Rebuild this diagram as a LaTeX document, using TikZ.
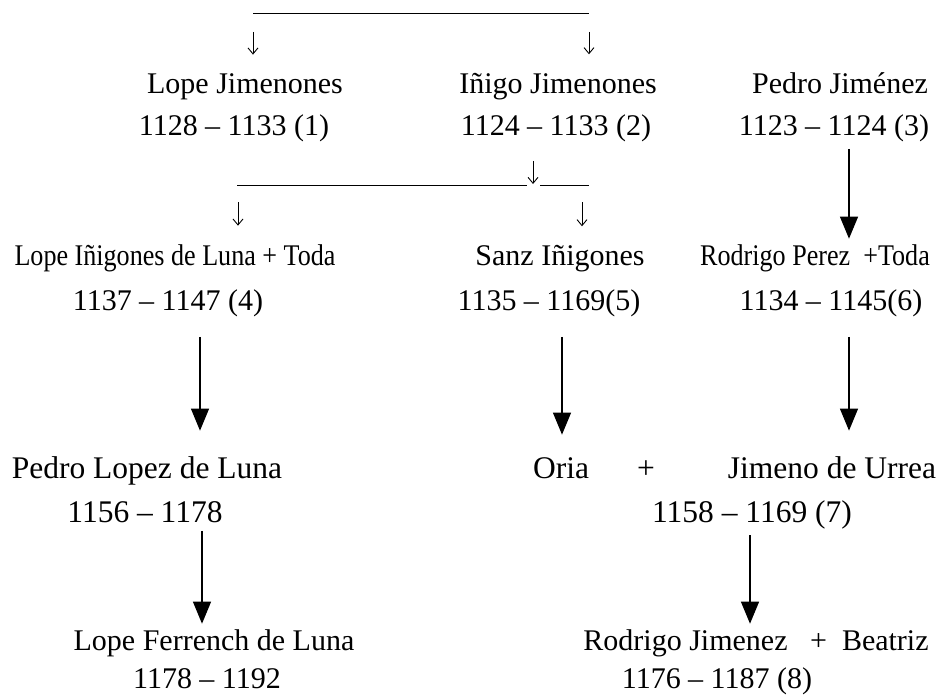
\documentclass[tikz,border=0pt]{standalone}
\usepackage{fontspec}
\setmainfont{Liberation Serif}
\usetikzlibrary{calc}
\usetikzlibrary{arrows.meta}
\newcommand{\narrow}[1]{\scalebox{0.87}[1]{#1}}
\tikzset{
    txt/.style={inner sep=0pt, anchor=base, font=\fontsize{30pt}{36pt}\selectfont},
    bigtxt/.style={txt, font=\fontsize{31.5pt}{38pt}\selectfont},
    smallarr/.style={line width=0.9pt, -{Straight Barb[length=6pt,width=10pt]}},
    bigarr/.style={line width=1.1pt, -{Triangle[length=22pt,width=18pt]}}
}

\begin{document}
\begin{tikzpicture}[x=1pt, y=-1pt, line width=1pt]
    \useasboundingbox (0,0) rectangle (941,695);

    % first row
    \node [txt] (lope_jim) at (245,94) {Lope Jimenones};
    \node [txt] (lope_jim_yr) at (234,136) {1128 -- 1133 (1)};
    \node [txt] (inigo_jim) at (558,94) {Iñigo Jimenones};
    \node [txt] (inigo_jim_yr) at (556,136) {1124 -- 1133 (2)};
    \node [txt] (pedro_jim) at (840,94) {Pedro Jiménez};
    \node [txt] (pedro_jim_yr) at (834,136) {1123 -- 1124 (3)};

    % second row
    \node [txt] (lope_ig) at (175,265) {\narrow{Lope Iñigones de Luna + Toda}};
    \node [txt] (lope_ig_yr) at (168,310) {1137 -- 1147 (4)};
    \node [txt] (sanz_ig) at (560,265) {Sanz Iñigones};
    \node [txt] (sanz_ig_yr) at (549,310) {1135 -- 1169(5)};
    \node [txt] (rodrigo_per) at (815,265) {\narrow{Rodrigo Perez\ \ +Toda}};
    \node [txt] (rodrigo_per_yr) at (831,310) {1134 -- 1145(6)};

    % third row
    \node [bigtxt] (pedro_lop) at (147,478) {Pedro Lopez de Luna};
    \node [bigtxt] (pedro_lop_yr) at (145,522) {1156 -- 1178};
    \node [bigtxt] (oria) at (561,478) {Oria};
    \node [bigtxt] (plus_oria) at (646,478) {+};
    \node [bigtxt] (jimeno_urr) at (832,478) {Jimeno de Urrea};
    \node [bigtxt] (jimeno_urr_yr) at (752,522) {1158 -- 1169 (7)};

    % fourth row
    \node [txt] (lope_fer) at (214,650) {Lope Ferrench de Luna};
    \node [txt] (lope_fer_yr) at (207,688) {1178 -- 1192};
    \node [txt] (rodrigo_jim) at (756,650) {Rodrigo Jimenez\ \ \ +\ \ Beatriz};
    \node [txt] (rodrigo_jim_yr) at (717,688) {1176 -- 1187 (8)};

    % bars
    \draw (253,14) coordinate (top_l) -- (589,14) coordinate (top_r);
    \draw (237,185) coordinate (mid_l) -- (527,185);
    \draw (540,185) -- (589,185) coordinate (mid_r);
    \coordinate (mid_in) at (533,184);

    \draw [smallarr] ($(top_l)+(0,18)$) -- ($(top_l |- lope_jim.north)+(0,-19)$);
    \draw [smallarr] ($(top_r)+(0,18)$) -- ($(top_r |- inigo_jim.north)+(0,-19)$);
    \draw [smallarr] ($(mid_in |- inigo_jim_yr.south)+(0,18)$) -- (mid_in);
    \draw [smallarr] ($(mid_l)+(1,17)$) -- ($(mid_l |- lope_ig.north)+(1,-18)$);
    \draw [smallarr] ($(mid_r)+(-7,17)$) -- ($(mid_r |- sanz_ig.north)+(-7,-18)$);

    \draw [bigarr] ($(pedro_jim_yr.south)+(15,6)$) -- ($(pedro_jim_yr.south |- rodrigo_per.north)+(15,-5)$);

    \draw [bigarr] ($(lope_ig_yr.south)+(32,20)$) -- ($(lope_ig_yr.south |- pedro_lop.north)+(32,-25)$);
    \draw [bigarr] ($(sanz_ig_yr.south)+(13,20)$) -- ($(sanz_ig_yr.south |- oria.north)+(13,-22)$);
    \draw [bigarr] ($(rodrigo_per_yr.south)+(18,20)$) -- ($(rodrigo_per_yr.south |- jimeno_urr.north)+(18,-25)$);

    \draw [bigarr] ($(pedro_lop_yr.south)+(57,8)$) -- ($(pedro_lop_yr.south |- lope_fer.north)+(57,-5)$);
    \draw [bigarr] ($(jimeno_urr_yr.south)+(-2,6)$) -- ($(jimeno_urr_yr.south |- rodrigo_jim.north)+(-2,-5)$);
\end{tikzpicture}
\end{document}
